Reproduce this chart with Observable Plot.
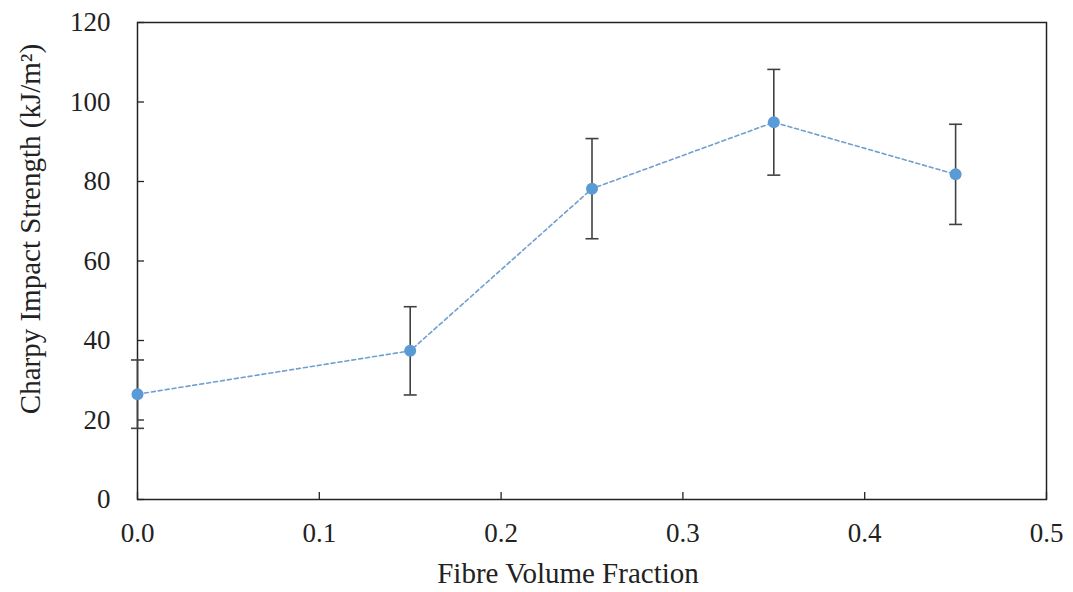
<!DOCTYPE html>
<html>
<head>
<meta charset="utf-8">
<script src="https://cdn.jsdelivr.net/npm/d3@7"></script>
<script src="https://cdn.jsdelivr.net/npm/@observablehq/plot@0.6"></script>
<style>
  html, body { margin: 0; padding: 0; background: #fff; }
  #chart svg { display: block; }
</style>
</head>
<body>
<div id="chart"></div>
<script>
const fractions = [0, 0.15, 0.25, 0.35, 0.45];
const strength = [26.5, 37.4, 78.2, 94.9, 81.8];
const errors = [8.6, 11.1, 12.6, 13.3, 12.6];
const xTicks = [0, 0.1, 0.2, 0.3, 0.4, 0.5];
const yTicks = [0, 20, 40, 60, 80, 100, 120];
const xLabel = "Fibre Volume Fraction";
const yLabel = "Charpy Impact Strength (kJ/m²)";

const data = fractions.map((f, i) => ({
  f, s: strength[i], lo: strength[i] - errors[i], hi: strength[i] + errors[i]
}));

const cap = {
  draw(ctx, size) {
    const r = Math.sqrt(size / Math.PI);
    ctx.moveTo(-r, 0);
    ctx.lineTo(r, 0);
  }
};

const font = "Liberation Serif, Times New Roman, serif";

const chart = Plot.plot({
  width: 1073,
  height: 592,
  marginLeft: 137,
  marginRight: 27,
  marginTop: 22,
  marginBottom: 93,
  style: { fontFamily: font, fontSize: "27px", color: "#222", background: "#fff" },
  x: { domain: [0, 0.5] },
  y: { domain: [0, 120] },
  marks: [
    Plot.axisX({ticks: xTicks, tickSize: -7, tickPadding: 30, tickFormat: d3.format(".1f"), label: null, stroke: "#222", strokeWidth: 1.3}),
    Plot.axisY({ticks: yTicks, tickSize: -7, tickPadding: 34, tickFormat: d3.format("d"), label: null, stroke: "#222", strokeWidth: 1.3}),
    Plot.frame({stroke: "#222", strokeWidth: 1.5}),
    Plot.line(data, {x: "f", y: "s", stroke: "#6f9fd0", strokeWidth: 1.6, strokeDasharray: "4,3"}),
    Plot.ruleX(data, {x: "f", y1: "lo", y2: "hi", stroke: "#404040", strokeWidth: 1.6}),
    Plot.dot(data, {x: "f", y: "lo", symbol: cap, r: 6.5, stroke: "#404040", strokeWidth: 1.6}),
    Plot.dot(data, {x: "f", y: "hi", symbol: cap, r: 6.5, stroke: "#404040", strokeWidth: 1.6}),
    Plot.dot(data, {x: "f", y: "s", r: 6, fill: "#5b9bd5"}),
    Plot.text([xLabel], {frameAnchor: "bottom", text: d => d, textAnchor: "middle", lineAnchor: "middle", dx: -24, dy: 74, fontSize: 29, fill: "#222"}),
    Plot.text([yLabel], {frameAnchor: "left", text: d => d, textAnchor: "middle", lineAnchor: "middle", rotate: -90, dx: -107, dy: -32, fontSize: 29, fill: "#222"})
  ]
});
document.getElementById("chart").appendChild(chart);
</script>
</body>
</html>
